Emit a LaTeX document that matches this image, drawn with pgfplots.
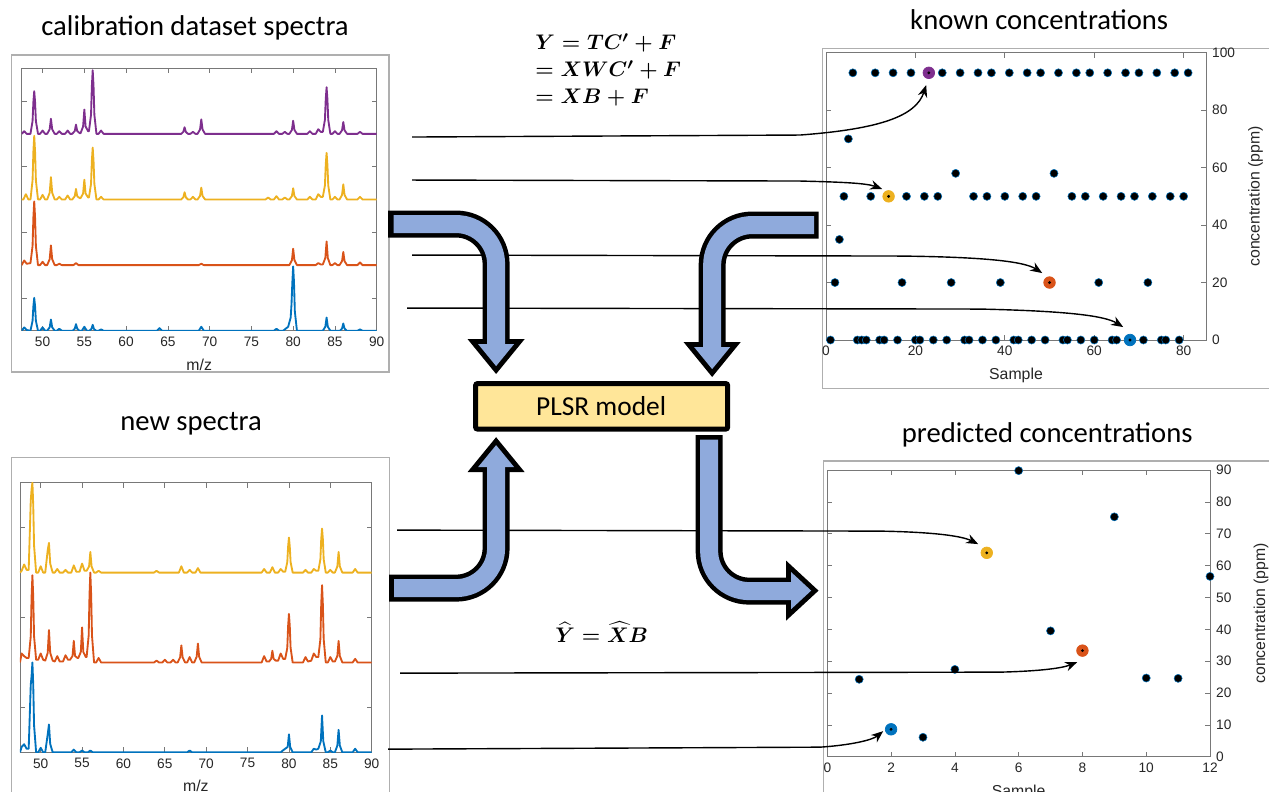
\documentclass[border=0pt]{standalone}
\usepackage{amsmath}
\usepackage{fontspec}
\setmainfont{Carlito}
\newfontfamily\arial{Liberation Sans}
\usepackage{pgfplots}
\pgfplotsset{compat=1.18}
\usetikzlibrary{arrows.meta}

\definecolor{matblue}{RGB}{0,114,189}
\definecolor{matorange}{RGB}{217,83,25}
\definecolor{matyellow}{RGB}{237,177,32}
\definecolor{matpurple}{RGB}{126,47,142}
\definecolor{arrowblue}{RGB}{143,170,220}
\definecolor{boxyellow}{RGB}{255,230,153}
\definecolor{axgray}{RGB}{120,120,120}
\definecolor{lblgray}{RGB}{38,38,38}
\definecolor{framegray}{RGB}{175,175,175}

\pgfplotsset{
  mat/.style={
    scale only axis, anchor=south west,
    tick align=inside, major tick length=0.1cm,
    axis line style={draw=axgray, line width=0.4pt},
    every tick/.style={draw=axgray, line width=0.4pt},
    ticklabel style={font=\arial\fontsize{7.8}{9}\selectfont, text=lblgray},
    label style={font=\arial\fontsize{9}{10}\selectfont, text=lblgray},
    /pgf/number format/assume math mode=true,
  },
  spec/.style={mat, xmin=47.5, xmax=90, ymin=0, xtick={50,55,...,90},
    yticklabels={}, xlabel={m/z},
    every axis plot/.append style={line width=1.05pt, line join=round}},
  dots/.style={only marks, mark=*, mark size=2.3pt,
    mark options={fill=black, draw=matblue, line width=0.3pt}},
  hl/.style={only marks, mark=*, mark size=3.3pt, mark options={fill=#1, draw=#1}},
  ctr/.style={only marks, mark=*, mark size=0.6pt, mark options={fill=black, draw=black}},
}

\begin{document}
\begin{tikzpicture}
\useasboundingbox (0,0) rectangle (25.38,-15.82);
\clip (0,0) rectangle (25.38,-15.82);

% figure frames
\begin{scope}[x=0.02cm, y=-0.02cm]
\draw[framegray, line width=0.03cm] (11.7,55) rectangle (389,371.7);
\draw[framegray, line width=0.03cm] (11.7,457.3) rectangle (389.3,820);
\draw[framegray, line width=0.03cm] (822.3,48.3) rectangle (1300,388.3);
\draw[framegray, line width=0.03cm] (823.3,461) rectangle (1300,820);
\end{scope}

% calibration spectra
\begin{axis}[spec, at={(0.434cm,-6.614cm)}, width=7.1cm, height=5.25cm,
  ymax=4, ytick={0.5,1.5,2.5,3.5}]
\addplot[matblue] coordinates {(47.5,0)(47.8,0.05)(48.1,0.01)
 (48.55,0)(48.8,0.15)(48.9,0.375)(49,0.5)(49.1,0.375)(49.2,0.15)(49.45,0)
 (49.7,0)(50,0.05)(50.3,0)
 (50.55,0)(50.85,0.051)(51,0.17)(51.15,0.051)(51.45,0)
 (51.7,0)(52,0.03)(52.3,0)
 (53.6,0)(53.85,0.03)(54,0.10)(54.15,0.03)(54.4,0)
 (54.7,0)(55,0.06)(55.3,0)
 (55.6,0)(55.85,0.027)(56,0.09)(56.15,0.027)(56.4,0)
 (56.7,0)(57,0.02)(57.3,0)
 (63.7,0)(64,0.04)(64.3,0)
 (68.7,0)(69,0.06)(69.3,0)
 (77.7,0)(78,0.03)(78.3,0)
 (78.8,0)(79.4,0.06)(79.7,0.2)(79.8,0.4)(79.9,0.735)(80,0.98)(80.1,0.735)(80.2,0.294)(80.45,0)
 (83.55,0)(83.85,0.06)(84,0.20)(84.15,0.06)(84.45,0)
 (85.6,0)(85.85,0.033)(86,0.11)(86.15,0.033)(86.4,0)
 (87.7,0)(88,0.02)(88.3,0)(90,0)};
\addplot[matorange] coordinates {(47.5,1)(47.8,1.07)(48.1,1.02)
 (48.55,1.03)(48.8,1.29)(48.9,1.73)(49,1.97)(49.1,1.73)(49.2,1.29)(49.45,1)
 (49.7,1)(50,1.05)(50.3,1)
 (50.55,1)(50.85,1.09)(51,1.30)(51.15,1.09)(51.45,1)
 (51.7,1)(52,1.02)(52.3,1)
 (53.7,1)(54,1.03)(54.3,1)
 (68.7,1)(69,1.02)(69.3,1)
 (79.55,1)(79.85,1.075)(80,1.25)(80.15,1.075)(80.45,1)
 (82.7,1)(83,1.03)(83.3,1.01)
 (83.55,1.01)(83.85,1.108)(84,1.36)(84.15,1.108)(84.45,1)
 (84.7,1)(85,1.03)(85.3,1)
 (85.55,1)(85.85,1.06)(86,1.20)(86.15,1.06)(86.45,1)
 (87.7,1)(88,1.04)(88.3,1)(90,1)};
\addplot[matyellow] coordinates {(47.5,2)(47.7,2)(48,2.08)(48.3,2)
 (48.55,2)(48.8,2.29)(48.9,2.73)(49,2.97)(49.1,2.73)(49.2,2.29)(49.45,2)
 (49.7,2)(50,2.07)(50.3,2)
 (50.55,2)(50.85,2.102)(51,2.34)(51.15,2.102)(51.45,2)
 (51.7,2)(52,2.04)(52.3,2)
 (52.7,2)(53,2.06)(53.3,2)
 (53.55,2)(53.85,2.048)(54,2.16)(54.15,2.048)(54.45,2.02)
 (54.55,2.02)(54.85,2.09)(55,2.30)(55.15,2.09)(55.45,2.03)
 (55.55,2.03)(55.8,2.237)(55.9,2.59)(56,2.79)(56.1,2.59)(56.2,2.237)(56.45,2)
 (56.7,2)(57,2.04)(57.3,2)
 (66.6,2)(66.85,2.033)(67,2.11)(67.15,2.033)(67.4,2)
 (67.7,2)(68,2.04)(68.3,2)
 (68.55,2)(68.85,2.054)(69,2.18)(69.15,2.054)(69.45,2)
 (76.7,2)(77,2.03)(77.3,2)
 (77.7,2)(78,2.05)(78.3,2)
 (78.7,2)(79,2.03)(79.3,2)
 (79.55,2)(79.85,2.051)(80,2.17)(80.15,2.051)(80.45,2)
 (81.7,2)(82,2.04)(82.3,2)
 (82.7,2)(83,2.08)(83.3,2.04)
 (83.55,2.04)(83.8,2.213)(83.9,2.53)(84,2.71)(84.1,2.53)(84.2,2.213)(84.45,2)
 (84.7,2)(85,2.04)(85.3,2)
 (85.55,2)(85.85,2.069)(86,2.23)(86.15,2.069)(86.45,2)
 (87.7,2)(88,2.04)(88.3,2)(90,2)};
\addplot[matpurple] coordinates {(47.5,3)(47.8,3.04)(48.1,3)
 (48.55,3)(48.8,3.195)(48.9,3.49)(49,3.65)(49.1,3.49)(49.2,3.195)(49.45,3)
 (49.7,3)(50,3.05)(50.3,3)
 (50.55,3)(50.85,3.069)(51,3.23)(51.15,3.069)(51.45,3)
 (51.7,3)(52,3.04)(52.3,3)
 (52.7,3)(53,3.05)(53.3,3)
 (53.55,3)(53.85,3.042)(54,3.14)(54.15,3.042)(54.45,3.01)
 (54.55,3.01)(54.85,3.111)(55,3.37)(55.15,3.111)(55.45,3.04)
 (55.55,3.04)(55.8,3.291)(55.9,3.73)(56,3.97)(56.1,3.73)(56.2,3.291)(56.45,3)
 (56.7,3)(57,3.05)(57.3,3)
 (66.6,3)(66.85,3.03)(67,3.1)(67.15,3.03)(67.4,3)
 (67.7,3)(68,3.03)(68.3,3)
 (68.55,3)(68.85,3.066)(69,3.22)(69.15,3.066)(69.45,3)
 (77.7,3)(78,3.04)(78.3,3)
 (78.7,3)(79,3.03)(79.3,3)
 (79.55,3)(79.85,3.06)(80,3.2)(80.15,3.06)(80.45,3)
 (81.7,3)(82,3.04)(82.3,3)
 (82.7,3)(83,3.07)(83.3,3.03)
 (83.55,3.03)(83.8,3.213)(83.9,3.53)(84,3.71)(84.1,3.53)(84.2,3.213)(84.45,3)
 (84.7,3)(85,3.04)(85.3,3)
 (85.55,3)(85.85,3.054)(86,3.18)(86.15,3.054)(86.45,3)
 (87.7,3)(88,3.03)(88.3,3)(90,3)};
\end{axis}

% new spectra
\begin{axis}[spec, at={(0.4cm,-15.046cm)}, width=7.034cm, height=5.392cm,
  ymax=3, ytick={0.5,1.5,2.5}]
\addplot[matblue] coordinates {(47.5,0)(47.7,0.06)(48,0.09)(48.3,0.04)
 (48.55,0.04)(48.8,0.75)(48.9,0.85)(49,1.0)(49.1,0.75)(49.2,0.3)(49.45,0)
 (49.7,0)(50,0.05)(50.3,0)
 (50.55,0)(50.85,0.2)(51,0.31)(51.15,0.093)(51.45,0)
 (53.7,0)(54,0.03)(54.3,0)
 (54.7,0)(55,0.02)(55.3,0)
 (55.7,0)(56,0.02)(56.3,0)
 (67.7,0)(68,0.02)(68.3,0)
 (79,0)(79.4,0.03)
 (79.55,0.04)(79.85,0.06)(80,0.2)(80.15,0.06)(80.45,0)
 (82.7,0)(83,0.04)(83.3,0.03)
 (83.55,0.04)(83.85,0.123)(84,0.41)(84.15,0.123)(84.45,0)
 (84.7,0)(85,0.02)(85.3,0)
 (85.55,0)(85.85,0.075)(86,0.25)(86.15,0.075)(86.45,0)
 (87.7,0)(88,0.04)(88.3,0)(90,0)};
\addplot[matorange] coordinates {(47.5,1)(47.7,1.1)(48,1.07)(48.3,1.05)
 (48.55,1.05)(48.8,1.29)(48.9,1.73)(49,1.97)(49.1,1.73)(49.2,1.29)(49.45,1.03)
 (49.7,1.03)(50,1.10)(50.3,1.03)
 (50.55,1.02)(50.85,1.108)(51,1.36)(51.15,1.108)(51.45,1.02)
 (51.7,1.01)(52,1.07)(52.3,1.01)
 (52.7,1.01)(53,1.08)(53.3,1.03)
 (53.55,1.03)(53.85,1.072)(54,1.24)(54.15,1.072)(54.45,1.05)
 (54.55,1.05)(54.85,1.117)(55,1.39)(55.15,1.117)(55.45,1.06)
 (55.55,1.06)(55.8,1.30)(55.9,1.75)(56,2.0)(56.1,1.75)(56.2,1.30)(56.45,1)
 (56.7,1)(57,1.05)(57.3,1)
 (63.7,1)(64,1.02)(64.3,1)
 (64.7,1)(65,1.03)(65.3,1)
 (65.7,1)(66,1.03)(66.3,1)
 (66.55,1)(66.85,1.057)(67,1.19)(67.15,1.057)(67.45,1)
 (67.7,1)(68,1.06)(68.3,1)
 (68.55,1)(68.85,1.063)(69,1.21)(69.15,1.063)(69.45,1)
 (76.7,1)(77,1.07)(77.3,1.01)
 (77.6,1.01)(77.85,1.04)(78,1.13)(78.15,1.04)(78.4,1.02)
 (78.7,1.02)(79,1.10)(79.3,1.04)
 (79.55,1.04)(79.8,1.162)(79.9,1.405)(80,1.54)(80.1,1.405)(80.2,1.162)(80.45,1)
 (81.7,1)(82,1.06)(82.3,1.01)
 (82.7,1.02)(83,1.10)(83.3,1.06)
 (83.55,1.06)(83.8,1.258)(83.9,1.645)(84,1.86)(84.1,1.645)(84.2,1.258)(84.45,1)
 (84.7,1)(85,1.06)(85.3,1.01)
 (85.55,1.01)(85.85,1.072)(86,1.24)(86.15,1.072)(86.45,1)
 (87.7,1)(88,1.04)(88.3,1)(90,1)};
\addplot[matyellow] coordinates {(47.5,2)(47.7,2.02)(48,2.09)(48.3,2.03)
 (48.55,2.03)(48.8,2.8)(48.9,2.93)(49,3.0)(49.1,2.75)(49.2,2.3)(49.45,2)
 (49.7,2)(50,2.07)(50.3,2)
 (50.55,2)(50.85,2.25)(51,2.33)(51.15,2.1)(51.45,2)
 (51.7,2)(52,2.04)(52.3,2)
 (52.7,2)(53,2.03)(53.3,2)
 (53.7,2)(54,2.08)(54.3,2.01)
 (54.7,2.01)(55,2.10)(55.3,2.02)
 (55.55,2.02)(55.85,2.069)(56,2.23)(56.15,2.069)(56.45,2)
 (56.7,2)(57,2.02)(57.3,2)
 (63.7,2)(64,2.02)(64.3,2)
 (66.7,2)(67,2.07)(67.3,2)
 (67.7,2)(68,2.03)(68.3,2)
 (68.7,2)(69,2.05)(69.3,2)
 (76.7,2)(77,2.04)(77.3,2)
 (77.7,2)(78,2.06)(78.3,2)
 (78.7,2)(79,2.04)(79.3,2.01)
 (79.55,2.01)(79.8,2.117)(79.9,2.29)(80,2.39)(80.1,2.29)(80.2,2.117)(80.45,2)
 (81.7,2)(82,2.03)(82.3,2)
 (82.7,2)(83,2.04)(83.3,2.02)
 (83.55,2.02)(83.8,2.147)(83.9,2.37)(84,2.49)(84.1,2.37)(84.2,2.147)(84.45,2)
 (84.7,2)(85,2.03)(85.3,2)
 (85.55,2)(85.85,2.069)(86,2.23)(86.15,2.069)(86.45,2)
 (87.7,2)(88,2.04)(88.3,2)(90,2)};
\end{axis}

% known concentrations
\begin{axis}[mat, at={(16.52cm,-6.8cm)}, width=7.6cm, height=5.746cm,
  xmin=0, xmax=85, ymin=0, ymax=100, xtick={0,20,...,80}, ytick={0,20,...,100},
  yticklabel pos=right, ylabel near ticks, ylabel shift=0.02cm,
  ylabel style={font=\arial\fontsize{9}{10}\selectfont, text=lblgray},
  xlabel={Sample}, ylabel={concentration (ppm)}, clip=false]
\addplot[dots] coordinates {
 (6,93)(11,93)(15,93)(19,93)(26,93)(30,93)(34,93)(37,93)(41,93)(45,93)
 (48,93)(52,93)(56,93)(59,93)(63,93)(67,93)(70,93)(74,93)(78,93)(81,93)
 (5,70)(29,58)(51,58)
 (4,50)(10,50)(18,50)(22,50)(25,50)(33,50)(36,50)(40,50)(44,50)(47,50)
 (55,50)(58,50)(62,50)(66,50)(69,50)(73,50)(77,50)(80,50)
 (3,35)
 (2,20)(17,20)(28,20)(39,20)(61,20)(72,20)
 (1,0)(7,0)(8,0)(9,0)(12,0)(13,0)(16,0)(20,0)(21,0)(24,0)(27,0)(31,0)
 (32,0)(35,0)(38,0)(42,0)(43,0)(46,0)(49,0)(53,0)(54,0)(57,0)(60,0)
 (64,0)(65,0)(71,0)(75,0)(76,0)(79,0)};
\addplot[hl=matpurple] coordinates {(23,93)};
\addplot[hl=matyellow] coordinates {(14,50)};
\addplot[hl=matorange] coordinates {(50,20)};
\addplot[hl=matblue] coordinates {(68,0)};
\addplot[ctr] coordinates {(23,93)(14,50)(50,20)(68,0)};
\end{axis}

% predicted concentrations
\begin{axis}[mat, at={(16.546cm,-15.134cm)}, width=7.654cm, height=5.734cm,
  xmin=0, xmax=12, ymin=0, ymax=90, xtick={0,2,...,12}, ytick={0,10,...,90},
  yticklabel pos=right, ylabel near ticks, ylabel shift=0.2cm,
  ylabel style={font=\arial\fontsize{9}{10}\selectfont, text=lblgray},
  xlabel={Sample}, ylabel={concentration (ppm)}, clip=false]
\addplot[dots] coordinates {(1,24.3)(3,6.1)(4,27.4)(6,89.8)(7,39.5)(9,75.3)
 (10,24.7)(11,24.6)(12,56.6)};
\addplot[hl=matyellow] coordinates {(5,64)};
\addplot[hl=matorange] coordinates {(8,33.3)};
\addplot[hl=matblue] coordinates {(2,8.6)};
\addplot[ctr] coordinates {(5,64)(8,33.3)(2,8.6)};
\end{axis}

\begin{scope}[x=0.02cm, y=-0.02cm]
% thin arrows
\begin{scope}[line width=0.8pt, -{Stealth[length=0.24cm, width=0.19cm]}]
\draw (412,137) -- (800,135) .. controls (880,129) and (916,116) .. (926,85);
\draw (412,180) -- (800,181) .. controls (840,182) and (866,183) .. (882,189);
\draw (412,255) -- (900,256) .. controls (990,257) and (1025,262) .. (1042,273);
\draw (407,308) -- (980,309) .. controls (1070,311) and (1105,316) .. (1123,327);
\draw (397,530) -- (880,531) .. controls (935,532) and (962,536) .. (978,544);
\draw (400,673) -- (1000,672) .. controls (1040,671) and (1062,668) .. (1077,662);
\draw (388,749) -- (820,747) .. controls (850,745) and (872,740) .. (883,731);
\end{scope}

% fat arrows: black outline first, blue fill over it
\begin{scope}[line join=miter]
\filldraw[black, line width=0.2cm] (478,344) -- (514,344) -- (496,366) -- cycle;
\filldraw[black, line width=0.2cm] (694,347) -- (730,347) -- (712,369) -- cycle;
\filldraw[black, line width=0.2cm] (478,467) -- (514,467) -- (496,445) -- cycle;
\filldraw[black, line width=0.2cm] (791,572) -- (791,609) -- (811,590.5) -- cycle;
\draw[black, line width=0.54cm, rounded corners=0.8cm] (388,224) -- (496,224) -- (496,346);
\draw[black, line width=0.54cm, rounded corners=0.8cm] (818.5,225) -- (712,225) -- (712,349);
\draw[black, line width=0.54cm, rounded corners=0.8cm] (389,588) -- (496,588) -- (496,469);
\draw[black, line width=0.54cm, rounded corners=0.8cm] (709,435) -- (709,591) -- (793,591);
\draw[arrowblue, line width=0.36cm, rounded corners=0.8cm] (393.5,224) -- (496,224) -- (496,348);
\draw[arrowblue, line width=0.36cm, rounded corners=0.8cm] (814,225) -- (712,225) -- (712,351);
\draw[arrowblue, line width=0.36cm, rounded corners=0.8cm] (394,588) -- (496,588) -- (496,465);
\draw[arrowblue, line width=0.36cm, rounded corners=0.8cm] (709,439.5) -- (709,591) -- (795,591);
\fill[arrowblue] (478,344) -- (514,344) -- (496,366) -- cycle;
\fill[arrowblue] (694,347) -- (730,347) -- (712,369) -- cycle;
\fill[arrowblue] (478,467) -- (514,467) -- (496,445) -- cycle;
\fill[arrowblue] (791,572) -- (791,609) -- (811,590.5) -- cycle;
\end{scope}

% model box
\filldraw[fill=boxyellow, draw=black, line width=0.1cm, rounded corners=0.04cm]
  (475.5,383.5) rectangle (727.5,429);
\node[font=\fontsize{15.6}{18}\selectfont] at (601,406) {PLSR model};

% titles
\node[font=\fontsize{16.3}{19}\selectfont] at (195,28) {calibration dataset spectra};
\node[font=\fontsize{16.3}{19}\selectfont] at (1039,20) {known concentrations};
\node[font=\fontsize{16.3}{19}\selectfont] at (191,424) {new spectra};
\node[font=\fontsize{16.3}{19}\selectfont] at (1047,435) {predicted concentrations};

% equations
\node[anchor=west, align=left, inner sep=0pt, font=\fontsize{13}{15.4}\selectfont]
  at (535,70) {$\boldsymbol{Y = TC' + F}$\\$\boldsymbol{= XWC' + F}$\\$\boldsymbol{= XB + F}$};
\node[anchor=west, inner sep=0pt, font=\fontsize{13}{16}\selectfont]
  at (555,632) {$\boldsymbol{\widehat{Y} = \widehat{X}B}$};
\end{scope}
\end{tikzpicture}
\end{document}
